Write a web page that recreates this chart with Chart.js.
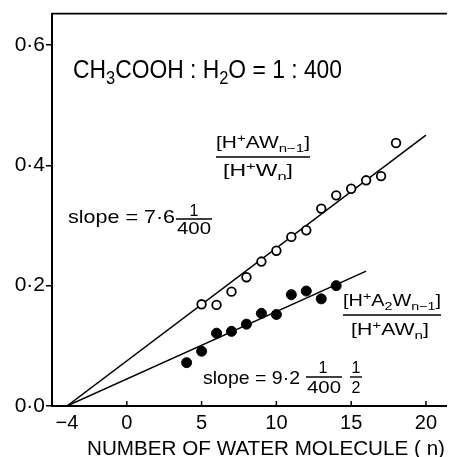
<!DOCTYPE html>
<html>
<head>
<meta charset="utf-8">
<script src="https://cdn.jsdelivr.net/npm/chart.js@4/dist/chart.umd.min.js"></script>
<style>
html,body{margin:0;padding:0;background:#fff;}
#wrap{width:453px;height:457px;}
</style>
</head>
<body>
<div id="wrap"><canvas id="c" width="453" height="457"></canvas></div>
<script>
// ---- data ----
const openX = [5, 6, 7, 8, 9, 10, 11, 12, 13, 14, 15, 16, 17, 18];
const openY = [0.169, 0.168, 0.190, 0.214, 0.240, 0.258, 0.281, 0.292, 0.328, 0.350, 0.361, 0.375, 0.382, 0.437];
const filledX = [4, 5, 6, 7, 8, 9, 10, 11, 12, 13, 14];
const filledY = [0.072, 0.091, 0.121, 0.124, 0.136, 0.154, 0.152, 0.185, 0.191, 0.178, 0.200];
const fitUpperX = [-4, 20];
const fitUpperY = [0, 0.45];
const fitLowerX = [-4, 16];
const fitLowerY = [0, 0.224];
const xTicks = [-4, 0, 5, 10, 15, 20];
const yTicks = [0, 0.2, 0.4, 0.6];
const xTitle = 'NUMBER OF WATER MOLECULE ( n)';

const FONT = '"Liberation Sans", Arial, sans-serif';
const pts = (xs, ys) => xs.map((x, i) => ({x: x, y: ys[i]}));

function rich(ctx, segs, x0, x1, base, size) {
  const small = size * 0.72;
  let w = 0;
  const ws = segs.map(s => {
    ctx.font = (s[1] ? small : size) + 'px ' + FONT;
    const m = ctx.measureText(s[0]).width;
    w += m;
    return m;
  });
  const sx = (x1 - x0) / w;
  ctx.save();
  ctx.translate(x0, base);
  ctx.scale(sx, 1);
  ctx.fillStyle = '#000';
  ctx.textAlign = 'left';
  ctx.textBaseline = 'alphabetic';
  let cx = 0;
  segs.forEach((s, i) => {
    ctx.font = (s[1] ? small : size) + 'px ' + FONT;
    const dy = s[1] === 'sub' ? size * 0.25 : (s[1] === 'sup' ? -size * 0.38 : 0);
    ctx.fillText(s[0], cx, dy);
    cx += ws[i];
  });
  ctx.restore();
}
function centered(ctx, text, cx, base, size) {
  ctx.save();
  ctx.font = size + 'px ' + FONT;
  ctx.fillStyle = '#000';
  ctx.textAlign = 'center';
  ctx.textBaseline = 'alphabetic';
  ctx.fillText(text, cx, base);
  ctx.restore();
}
function hline(ctx, x0, x1, y, lw) {
  ctx.save();
  ctx.strokeStyle = '#000';
  ctx.lineWidth = lw || 1.5;
  ctx.beginPath();
  ctx.moveTo(x0, y);
  ctx.lineTo(x1, y);
  ctx.stroke();
  ctx.restore();
}

const decor = {
  id: 'decor',
  afterDraw(chart) {
    const ctx = chart.ctx;
    const a = chart.chartArea;
    const xs = chart.scales.x;
    // top frame line
    hline(ctx, a.left, a.right, a.top, 1.6);
    // inward x tick marks
    ctx.save();
    ctx.strokeStyle = '#000';
    ctx.lineWidth = 1.5;
    xTicks.forEach(v => {
      if (v < 0) return;
      const px = xs.getPixelForValue(v);
      ctx.beginPath();
      ctx.moveTo(px, a.bottom);
      ctx.lineTo(px, a.bottom - 5);
      ctx.stroke();
    });
    ctx.restore();

    // title annotation
    rich(ctx, [['CH'], ['3', 'sub'], ['COOH : H'], ['2', 'sub'], ['O = 1 : 400']], 73, 342, 78, 25);

    // upper ratio label
    rich(ctx, [['[H'], ['+', 'sup'], ['AW'], ['n\u22121', 'sub'], [']']], 216, 310, 148, 16);
    hline(ctx, 216, 310, 157, 1.4);
    rich(ctx, [['[H'], ['+', 'sup'], ['W'], ['n', 'sub'], [']']], 223, 293, 176, 16);

    // slope 1
    rich(ctx, [['slope = 7\u00b76']], 68, 175, 223, 19);
    centered(ctx, '1', 194, 216, 16);
    hline(ctx, 176, 212, 219, 1.4);
    rich(ctx, [['400']], 177, 211, 234, 16);

    // lower ratio label
    rich(ctx, [['[H'], ['+', 'sup'], ['A'], ['2', 'sub'], ['W'], ['n\u22121', 'sub'], [']']], 343, 441, 306, 16);
    hline(ctx, 343, 441, 315, 1.4);
    rich(ctx, [['[H'], ['+', 'sup'], ['AW'], ['n', 'sub'], [']']], 351, 429, 335, 16);

    // slope 2
    rich(ctx, [['slope = 9\u00b72']], 203, 300, 384, 19);
    centered(ctx, '1', 323, 373, 16);
    hline(ctx, 306, 342, 377, 1.4);
    rich(ctx, [['400']], 307, 341, 393, 16);
    centered(ctx, '1', 356, 373, 16);
    hline(ctx, 350, 362, 377, 1.4);
    centered(ctx, '2', 356, 393, 16);

    // x axis title
    rich(ctx, [[xTitle]], 87, 445, 455, 21);
  }
};

new Chart(document.getElementById('c'), {
  type: 'scatter',
  data: {
    datasets: [
      {
        label: 'fit upper', data: pts(fitUpperX, fitUpperY), showLine: true,
        borderColor: '#000', borderWidth: 1.5, pointRadius: 0, fill: false, order: 3
      },
      {
        label: 'fit lower', data: pts(fitLowerX, fitLowerY), showLine: true,
        borderColor: '#000', borderWidth: 1.5, pointRadius: 0, fill: false, order: 3
      },
      {
        label: '[H+AWn-1]/[H+Wn]', data: pts(openX, openY),
        pointStyle: 'circle', pointRadius: 4.3, pointBorderWidth: 1.8,
        pointBackgroundColor: '#fff', pointBorderColor: '#000', order: 1
      },
      {
        label: '[H+A2Wn-1]/[H+AWn]', data: pts(filledX, filledY),
        pointStyle: 'circle', pointRadius: 5, pointBorderWidth: 1,
        pointBackgroundColor: '#000', pointBorderColor: '#000', order: 1
      }
    ]
  },
  options: {
    responsive: false,
    animation: false,
    devicePixelRatio: 1,
    layout: {padding: {top: 12, left: 0, right: 0, bottom: 0}},
    plugins: {legend: {display: false}, tooltip: {enabled: false}},
    scales: {
      x: {
        type: 'linear', min: -5, max: 21.4,
        afterFit(s) { s.height = 51; },
        afterBuildTicks(s) { s.ticks = xTicks.map(v => ({value: v})); },
        grid: {drawOnChartArea: false, drawTicks: false},
        border: {display: true, color: '#000', width: 2},
        ticks: {
          color: '#000', padding: 5, maxRotation: 0, autoSkip: false,
          font: {family: FONT, size: 20},
          callback: v => v < 0 ? '\u2212' + Math.abs(v) : String(v)
        }
      },
      y: {
        type: 'linear', min: 0, max: 0.652,
        afterFit(s) { s.width = 52; },
        afterBuildTicks(s) { s.ticks = yTicks.map(v => ({value: v})); },
        grid: {drawOnChartArea: false, drawTicks: true, tickLength: 6, color: '#000', lineWidth: 1.5},
        border: {display: true, color: '#000', width: 2},
        ticks: {
          color: '#000', padding: 1,
          font: {family: FONT, size: 21},
          callback: v => v.toFixed(1).replace('.', '\u00b7')
        }
      }
    }
  },
  plugins: [decor]
});
</script>
</body>
</html>
